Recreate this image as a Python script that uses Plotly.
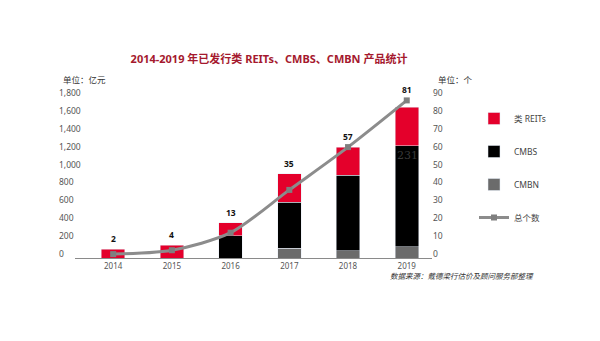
import plotly.graph_objects as go

# ---- data ----
years = ["2014", "2015", "2016", "2017", "2018", "2019"]
reits = [100, 145, 145, 314, 310, 433]        # 类 REITs, 亿元
cmbs = [0, 0, 250, 518, 846, 1127]            # CMBS, 亿元
cmbn = [0, 0, 0, 108, 82, 126]                # CMBN, 亿元
counts = [2, 4, 13, 35, 57, 81]               # 总个数
left_ticks = list(range(0, 1801, 200))
right_ticks = list(range(0, 91, 10))

W, H = 600, 341
MT, MB = 80, 270                 # outer plot box (top/bottom, px)
PL, PR, PT, PB = 55, 432, 97, 258  # data box in pixels
AX_LEFT = 75                      # where the x-axis line starts
PW, PHt = PR - PL, MB - MT
Y_MAX = 1800
UNIT = Y_MAX / (PB - PT)          # value units per pixel

def px(x):
    return (x - PL) / PW

def py(y):
    return (MB - y) / PHt

FONT = "Noto Sans, Noto Sans CJK SC, sans-serif"
RED = "#e4002b"
GREY = "#6b6b6b"
LINE = "#8c8c8c"
COUNT_MAX = 82.75   # range of the hidden axis carrying the count line

fig = go.Figure()
fig.add_bar(x=years, y=cmbn, name="CMBN", marker_color=GREY, width=0.4,
            legendrank=3, legendgroup="c")
fig.add_bar(x=years, y=cmbs, name="CMBS", marker_color="#000000", width=0.4,
            legendrank=2, legendgroup="b")
fig.add_bar(x=years, y=reits, name="类 REITs", marker_color=RED, width=0.4,
            legendrank=1, legendgroup="a")
fig.add_scatter(x=years, y=counts, name="总个数", yaxis="y3",
                mode="lines+markers",
                line=dict(color=LINE, width=3, shape="spline", smoothing=0.8),
                marker=dict(symbol="square", size=6, color="#7f7f7f"),
                legendrank=4, legendgroup="d")
# carries the left tick labels on a taller axis so the end labels stay visible
fig.add_scatter(x=[years[0]], y=[0], yaxis="y4", mode="markers",
                marker=dict(opacity=0), showlegend=False, hoverinfo="skip")
# keeps the right axis drawn
fig.add_scatter(x=[years[0]], y=[0], yaxis="y2", mode="markers",
                marker=dict(opacity=0), showlegend=False, hoverinfo="skip")

# count labels above each column
for i in range(len(years)):
    total = reits[i] + cmbs[i] + cmbn[i]
    line_pos = counts[i] / COUNT_MAX * Y_MAX
    fig.add_annotation(x=i, y=max(total, line_pos), text=f"<b>{counts[i]}</b>",
                       showarrow=False, yanchor="bottom", yshift=3,
                       font=dict(family=FONT, size=8.5, color="#111111"))

# faint figure printed inside the 2019 column
fig.add_annotation(x=5 - 0.2, y=cmbs[5] + cmbn[5], text="231", showarrow=False,
                   xanchor="left", yanchor="top", yshift=-1,
                   font=dict(family="DejaVu Serif, serif", size=11, color="#3a3a3a"))

# unit labels and source note
fig.add_annotation(xref="paper", yref="paper", x=px(61), y=py(79), text="单位：亿元",
                   showarrow=False, xanchor="left", yanchor="middle",
                   font=dict(family=FONT, size=8.5, color="#333333"))
fig.add_annotation(xref="paper", yref="paper", x=px(436), y=py(79), text="单位：个",
                   showarrow=False, xanchor="left", yanchor="middle",
                   font=dict(family=FONT, size=8.5, color="#333333"))
fig.add_annotation(xref="paper", yref="paper", x=px(536), y=py(276),
                   text="<i>数据来源：戴德梁行估价及顾问服务部整理</i>",
                   showarrow=False, xanchor="right", yanchor="middle",
                   font=dict(family=FONT, size=7.5, color="#333333"))

data_dom = [py(PB), py(PT)]
tick_font = dict(family=FONT, size=8.5, color="#555555")

fig.update_layout(
    width=W, height=H,
    margin=dict(l=PL, r=W - PR, t=MT, b=H - MB, pad=0),
    paper_bgcolor="white", plot_bgcolor="rgba(0,0,0,0)",
    barmode="stack",
    title=dict(text="<b>2014-2019 年已发行类 REITs、CMBS、CMBN 产品统计</b>",
               x=269 / W, y=1 - 59 / H, xanchor="center", yanchor="middle",
               xref="container", yref="container",
               font=dict(family=FONT, size=11, color="#a5192e")),
    xaxis=dict(domain=[px(AX_LEFT), 1], range=[-0.65, 5.43], type="category",
               anchor="y", showline=True, linecolor="#8a8a8a", linewidth=1,
               showgrid=False, ticks="",
               tickfont=dict(family=FONT, size=8, color="#555555")),
    yaxis=dict(domain=data_dom, range=[0, Y_MAX], visible=False),
    yaxis2=dict(overlaying="y", side="right", anchor="x", range=[0, 90],
                tickvals=right_ticks, ticklabelshift=-4, showgrid=False,
                zeroline=False, showline=False, ticks="", tickfont=tick_font),
    yaxis3=dict(overlaying="y", range=[0, COUNT_MAX], visible=False),
    yaxis4=dict(anchor="free", position=0, domain=[0, 1],
                range=[-(MB - PB) * UNIT, Y_MAX + (PT - MT) * UNIT],
                tickvals=left_ticks, tickformat=",", ticklabelposition="inside",
                ticklabelshift=-4, showgrid=False, zeroline=False, showline=False,
                ticks="", tickfont=tick_font),
    legend=dict(x=px(474), y=py(104), xanchor="left", yanchor="top",
                tracegroupgap=14, bgcolor="rgba(0,0,0,0)",
                font=dict(family=FONT, size=8.5, color="#444444")),
    showlegend=True,
)

fig.write_html("out.html")
